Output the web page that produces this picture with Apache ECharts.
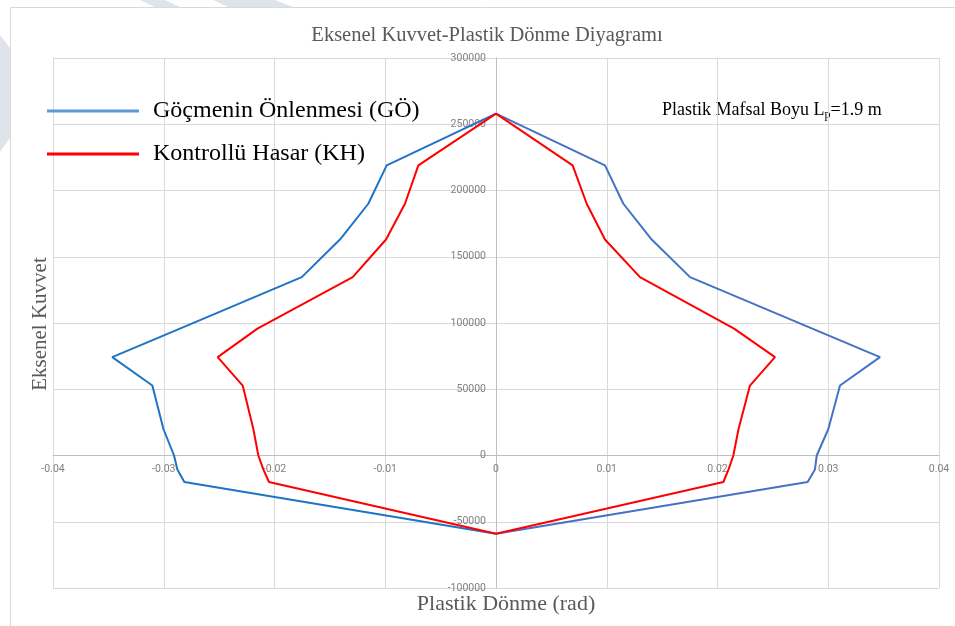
<!DOCTYPE html>
<html>
<head>
<meta charset="utf-8">
<script src="https://cdn.jsdelivr.net/npm/echarts@6/dist/echarts.min.js"></script>
<style>
html,body{margin:0;padding:0;background:#fff;}
#chart{width:955px;height:626px;}
</style>
</head>
<body>
<div id="chart"></div>
<script>
// ---- data ----
const titleText = 'Eksenel Kuvvet-Plastik Dönme Diyagramı';
const xAxisTitle = 'Plastik Dönme (rad)';
const yAxisTitle = 'Eksenel Kuvvet';
const noteMain = 'Plastik Mafsal Boyu L';
const noteSub = 'p';
const noteEnd = '=1.9 m';
const seriesNames = ['Göçmenin Önlenmesi (GÖ)', 'Kontrollü Hasar (KH)'];

// axial force levels (y), bottom to top
const axialForce = [-59000, -20000, -10500, 0, 20000, 52800, 74200, 95800, 134600, 163000, 190000, 219000, 258000];
// plastic rotation (x) for each level
const goLeft  = [0, -0.02814, -0.02877, -0.02907, -0.03003, -0.03103, -0.03465, -0.02854, -0.01754, -0.01409, -0.01153, -0.00987, 0];
const goRight = [0,  0.02814,  0.02880,  0.02896,  0.03001,  0.03106,  0.03467,  0.02856,  0.01752,  0.01406,  0.01150,  0.00984, 0];
const khLeft  = [0, -0.02050, -0.02101, -0.02146, -0.02191, -0.02287, -0.02513, -0.02154, -0.01294, -0.00993, -0.00822, -0.00701, 0];
const khRight = [0,  0.02053,  0.02100,  0.02143,  0.02190,  0.02293,  0.02519,  0.02150,  0.01300,  0.00984,  0.00819,  0.00692, 0];

const xTicks = { min: -0.04, max: 0.04, interval: 0.01 };
const yTicks = { min: -100000, max: 300000, interval: 50000 };

function pairs(xs) { return axialForce.map((f, i) => [xs[i], f]); }

const chart = echarts.init(document.getElementById('chart'), null, { renderer: 'canvas' });
const serif = '"Liberation Serif", "DejaVu Serif", serif';
const sans = 'Roboto, "Liberation Sans", sans-serif';

// grid geometry (layout only)
const G = { left: 53, right: 16, top: 58, bottom: 38, w: 955, h: 626 };
const plotW = G.w - G.left - G.right, plotH = G.h - G.top - G.bottom;
// shift the axes so they cross at zero (layout offsets)
const xAxisOffset = -plotH * (0 - yTicks.min) / (yTicks.max - yTicks.min);
const yAxisOffset = -plotW * (0 - xTicks.min) / (xTicks.max - xTicks.min);

const option = {
  backgroundColor: '#ffffff',
  animation: false,
  title: {
    text: titleText,
    left: 482, top: 20, textAlign: 'center',
    textStyle: { fontFamily: serif, fontSize: 20.5, fontWeight: 'normal', color: '#595959' }
  },
  legend: {
    left: 47, top: 98, orient: 'vertical', icon: 'rect', padding: 0,
    itemWidth: 92, itemHeight: 3, itemGap: 17,
    textStyle: { fontFamily: serif, fontSize: 24, color: '#000', lineHeight: 26, padding: [0, 0, 0, 9] },
    data: [
      { name: seriesNames[0], itemStyle: { color: '#5B9BD5' } },
      { name: seriesNames[1], itemStyle: { color: '#FF0000' } }
    ]
  },
  grid: { left: G.left, right: G.right, top: G.top, bottom: G.bottom, containLabel: false },
  xAxis: {
    type: 'value', min: xTicks.min, max: xTicks.max, interval: xTicks.interval,
    position: 'bottom', offset: xAxisOffset,
    axisLine: { onZero: false, lineStyle: { color: '#bfbfbf', width: 1 } },
    axisTick: { show: false },
    axisLabel: {
      margin: 8, color: '#808080', fontFamily: sans, fontSize: 10.5,
      formatter: v => { const r = Math.round(v * 100) / 100; return r === 0 ? '0' : r.toFixed(2); }
    },
    splitLine: { show: true, lineStyle: { color: '#d9d9d9', width: 1 } }
  },
  yAxis: {
    type: 'value', min: yTicks.min, max: yTicks.max, interval: yTicks.interval,
    position: 'left', offset: yAxisOffset,
    axisLine: { show: true, onZero: false, lineStyle: { color: '#bfbfbf', width: 1 } },
    axisTick: { show: false },
    axisLabel: { margin: 10, color: '#808080', fontFamily: sans, fontSize: 10.5, formatter: v => String(Math.round(v)) },
    splitLine: { show: true, lineStyle: { color: '#d9d9d9', width: 1 } }
  },
  series: [
    { name: seriesNames[0], type: 'line', data: pairs(goLeft), symbol: 'none', lineStyle: { color: '#1F74C4', width: 2 }, itemStyle: { color: '#1F74C4' }, z: 3 },
    { name: seriesNames[0], type: 'line', data: pairs(goRight), symbol: 'none', lineStyle: { color: '#4472C4', width: 2 }, itemStyle: { color: '#4472C4' }, z: 3 },
    { name: seriesNames[1], type: 'line', data: pairs(khLeft), symbol: 'none', lineStyle: { color: '#FF0000', width: 2 }, itemStyle: { color: '#FF0000' }, z: 4 },
    { name: seriesNames[1], type: 'line', data: pairs(khRight), symbol: 'none', lineStyle: { color: '#FF0000', width: 2 }, itemStyle: { color: '#FF0000' }, z: 4 }
  ],
  graphic: [
    { type: 'polygon', shape: { points: [[0, 35], [10, 48], [10, 138], [0, 152]] }, style: { fill: '#dfe4eb' }, silent: true },
    { type: 'polygon', shape: { points: [[140, 0], [165, 0], [180, 7], [155, 7]] }, style: { fill: '#dfe4eb' }, silent: true },
    { type: 'polygon', shape: { points: [[213, 0], [275, 0], [293, 7], [228, 7]] }, style: { fill: '#dfe4eb' }, silent: true },
    { type: 'rect', shape: { x: 10.5, y: 7.5, width: 1000, height: 700 }, style: { fill: 'none', stroke: '#d9d9d9', lineWidth: 1 }, silent: true },
    {
      type: 'text', left: 662, top: 101,
      style: {
        text: '{a|' + noteMain + '}{s|' + noteSub + '}{a|' + noteEnd + '}',
        rich: {
          a: { fontFamily: serif, fontSize: 18, lineHeight: 21, fill: '#000' },
          s: { fontFamily: serif, fontSize: 12, lineHeight: 13, verticalAlign: 'bottom', fill: '#000' }
        }
      }
    },
    {
      type: 'text', x: 40, y: 324, rotation: Math.PI / 2,
      style: { text: yAxisTitle, fontFamily: serif, fontSize: 21, fill: '#595959', align: 'center', verticalAlign: 'middle' }
    },
    {
      type: 'text', x: 506, y: 604,
      style: { text: xAxisTitle, fontFamily: serif, fontSize: 22, fill: '#595959', align: 'center', verticalAlign: 'middle' }
    }
  ]
};
chart.setOption(option);
</script>
</body>
</html>
